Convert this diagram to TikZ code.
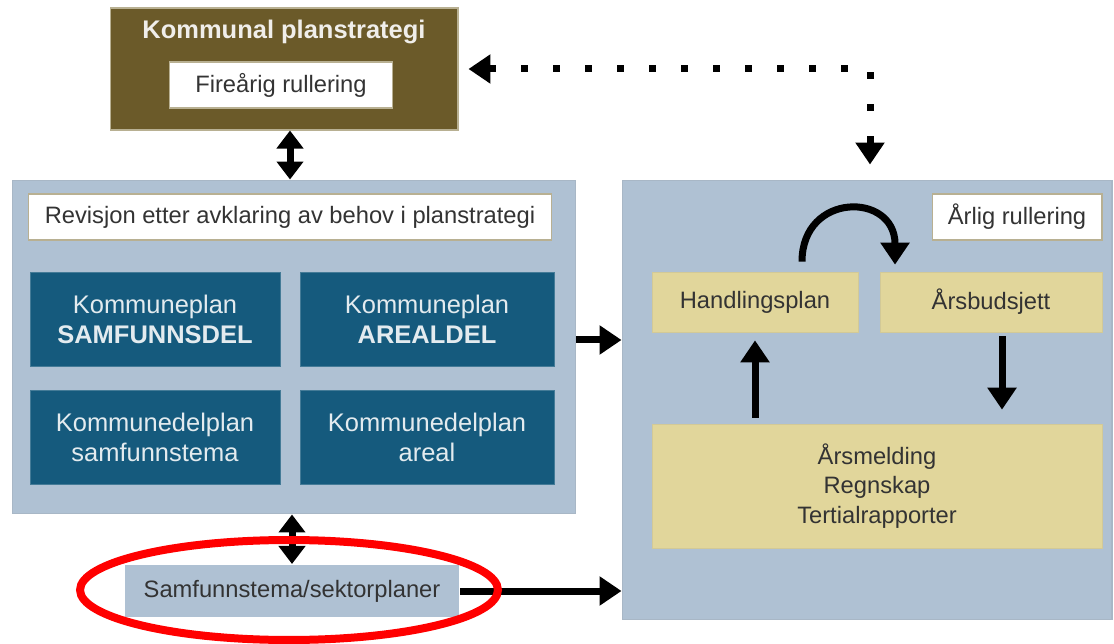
\documentclass[tikz,border=0pt]{standalone}
\usepackage{fontspec}
\setmainfont{Liberation Sans}
\usetikzlibrary{arrows.meta}
\usetikzlibrary{shapes.geometric}

\definecolor{strategibrun}{HTML}{6B5A29}
\definecolor{panelblaa}{HTML}{AFC1D3}
\definecolor{morkblaa}{HTML}{155A7D}
\definecolor{gulboks}{HTML}{E1D69B}
\definecolor{tekstgraa}{HTML}{333333}
\definecolor{labelkant}{HTML}{B8B092}

\begin{document}
\begin{tikzpicture}[x=0.02cm,y=-0.02cm,
  panel/.style={fill=panelblaa,draw=panelblaa!85!gray,line width=0.6pt},
  label/.style={fill=white,draw=labelkant,line width=0.6pt,font=\fontsize{13.5}{16}\selectfont,text=tekstgraa,minimum height=0.92cm},
  planbox/.style={fill=morkblaa,draw=morkblaa!80!white,text=white!88!morkblaa,align=center,minimum width=5.0cm,minimum height=1.88cm,font=\fontsize{14.5}{17}\selectfont},
  okbox/.style={fill=gulboks,draw=gulboks!85!gray,text=tekstgraa,align=center,font=\fontsize{13.5}{17}\selectfont},
  pil/.style={line width=0.14cm,-{Triangle[length=0.44cm,width=0.56cm]}},
  dobbelpil/.style={line width=0.14cm,{Triangle[length=0.36cm,width=0.52cm]}-{Triangle[length=0.36cm,width=0.52cm]}},
  prikkpil/.style={line width=0.14cm,dash pattern=on 0.14cm off 0.5cm,{Triangle[length=0.44cm,width=0.56cm]}-{Triangle[length=0.44cm,width=0.56cm]}}]

\useasboundingbox[fill=white] (0,0) rectangle (1114,644);

% planstrategi
\node[fill=strategibrun,draw=labelkant,line width=0.6pt,minimum width=6.96cm,minimum height=2.44cm] (strategi) at (284,69) {};
\node[text=white!90!strategibrun,font=\bfseries\fontsize{14.5}{17}\selectfont] (tittel) at (284,32) {Kommunal planstrategi};
\node[label,minimum width=4.46cm] (firearig) at (281,85) {Fireårig rullering};

% kommuneplan panel
\node[panel,minimum width=11.28cm,minimum height=6.68cm] (kplan) at (294,347) {};
\node[label,minimum width=10.48cm] (revisjon) at (290,217) {Revisjon etter avklaring av behov i planstrategi};
\node[planbox] (samf) at (155,319) {Kommuneplan\\\textbf{SAMFUNNSDEL}};
\node[planbox,minimum width=5.08cm] (areal) at (427,319) {Kommuneplan\\\textbf{AREALDEL}};
\node[planbox] (samftema) at (155,437) {Kommunedelplan\\samfunnstema};
\node[planbox,minimum width=5.08cm] (delareal) at (427,437) {Kommunedelplan\\areal};

% økonomiplan panel
\node[panel,minimum width=9.8cm,minimum height=8.8cm] (okonomi) at (867,400) {};
\node[label,minimum width=3.4cm] (aarlig) at (1017,217) {Årlig rullering};
\node[okbox,minimum width=4.12cm,minimum height=1.2cm] (handling) at (755,302) {Handlingsplan};
\node[okbox,minimum width=4.44cm,minimum height=1.2cm] (budsjett) at (991,302) {Årsbudsjett};
\node[okbox,minimum width=9.0cm,minimum height=2.48cm] (melding) at (877,486) {Årsmelding\\Regnskap\\Tertialrapporter};

% sektorplaner
\node[panel,draw=none,text=tekstgraa,font=\fontsize{13.5}{16}\selectfont,minimum width=6.7cm,minimum height=1.06cm] (sektor) at (292,591) {Samfunnstema/sektorplaner};

% piler
\draw[dobbelpil] (strategi.south -| 290,0) -- (kplan.north -| 290,0);
\draw[dobbelpil] (kplan.south -| sektor.north) -- (sektor.north);
\draw[pil] (kplan.east |- 0,340) -- (okonomi.west |- 0,340);
\draw[pil] (sektor.east) -- (sektor.east -| okonomi.west);
\draw[pil,shorten <=0.12cm,shorten >=0.16cm] (melding.north -| handling.south) -- (handling.south);
\draw[pil,shorten <=0.08cm,shorten >=0.28cm] (budsjett.south -| 1002,0) -- (melding.north -| 1002,0);
\draw[pil,shorten <=0.2cm,shorten >=0.14cm] ([xshift=0.94cm]handling.north) to[out=90,in=90,looseness=2.2] ([xshift=-1.92cm]budsjett.north);
\draw[prikkpil,shorten <=0.2cm,shorten >=0.3cm] (strategi.east) -| (okonomi.north -| 870,0);

% markering
\node[ellipse,draw=red,line width=0.16cm,minimum width=8.36cm,minimum height=2.0cm] (ring) at (289,590) {};

\end{tikzpicture}
\end{document}
